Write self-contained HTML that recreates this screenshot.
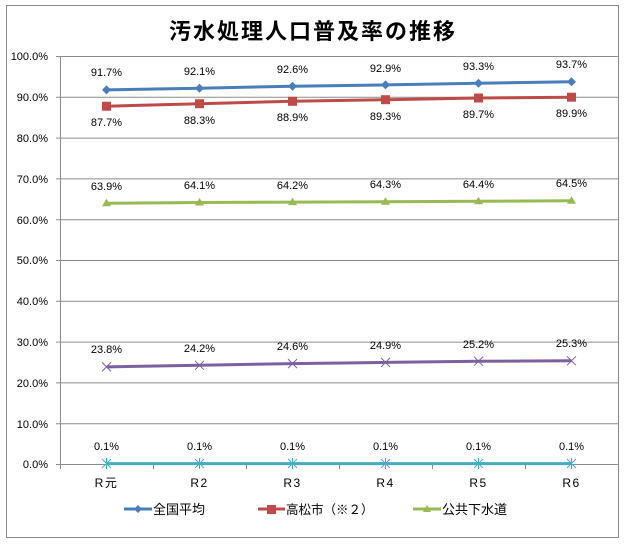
<!DOCTYPE html>
<html><head><meta charset="utf-8"><style>
body{margin:0;background:#fff;}
svg text{font-family:"Liberation Sans","Noto Sans CJK JP",sans-serif;}
</style></head><body>
<svg width="627" height="548" viewBox="0 0 627 548" xmlns="http://www.w3.org/2000/svg">
<rect x="0" y="0" width="627" height="548" fill="#fff"/>
<rect x="6.5" y="5.5" width="612" height="532" fill="#fff" stroke="#888" stroke-width="1"/>
<text x="313" y="39" text-anchor="middle" font-size="22" font-weight="bold" letter-spacing="2" style='font-family:"Noto Sans CJK JP",sans-serif'>汚水処理人口普及率の推移</text>
<g stroke="#8c8c8c" stroke-width="1">
<line x1="56" y1="56.5" x2="618" y2="56.5"/><line x1="56" y1="97.3" x2="618" y2="97.3"/>
<line x1="56" y1="138.1" x2="618" y2="138.1"/><line x1="56" y1="178.9" x2="618" y2="178.9"/>
<line x1="56" y1="219.7" x2="618" y2="219.7"/><line x1="56" y1="260.5" x2="618" y2="260.5"/>
<line x1="56" y1="301.3" x2="618" y2="301.3"/><line x1="56" y1="342.1" x2="618" y2="342.1"/>
<line x1="56" y1="382.9" x2="618" y2="382.9"/><line x1="56" y1="423.7" x2="618" y2="423.7"/>
<line x1="56" y1="464.5" x2="618" y2="464.5"/>
<line x1="60.5" y1="56" x2="60.5" y2="469"/>
<line x1="153.5" y1="464" x2="153.5" y2="469"/><line x1="246.5" y1="464" x2="246.5" y2="469"/>
<line x1="339.5" y1="464" x2="339.5" y2="469"/><line x1="432.5" y1="464" x2="432.5" y2="469"/>
<line x1="525.5" y1="464" x2="525.5" y2="469"/>
</g>
<g font-size="11" text-anchor="end" fill="#000">
<text x="48" y="60">100.0%</text><text x="48" y="101">90.0%</text><text x="48" y="142">80.0%</text>
<text x="48" y="183">70.0%</text><text x="48" y="224">60.0%</text><text x="48" y="264">50.0%</text>
<text x="48" y="305">40.0%</text><text x="48" y="346">30.0%</text><text x="48" y="387">20.0%</text>
<text x="48" y="428">10.0%</text><text x="48" y="468">0.0%</text>
</g>
<g font-size="12" text-anchor="middle" letter-spacing="1.5">
<text x="106.5" y="487">R元</text><text x="199.5" y="487">R2</text><text x="292.5" y="487">R3</text>
<text x="385.5" y="487">R4</text><text x="478.5" y="487">R5</text><text x="571.5" y="487">R6</text>
</g>
<polyline fill="none" stroke="#4a7ebb" stroke-width="3" points="106.5,89.9 199.5,88.2 292.5,86.2 385.5,84.9 478.5,83.3 571.5,81.7"/>
<g fill="#4a7ebb">
<polygon points="106.5,85.4 111,89.9 106.5,94.4 102,89.9"/><polygon points="199.5,83.7 204,88.2 199.5,92.7 195,88.2"/>
<polygon points="292.5,81.7 297,86.2 292.5,90.7 288,86.2"/><polygon points="385.5,80.4 390,84.9 385.5,89.4 381,84.9"/>
<polygon points="478.5,78.8 483,83.3 478.5,87.8 474,83.3"/><polygon points="571.5,77.2 576,81.7 571.5,86.2 567,81.7"/>
</g>
<polyline fill="none" stroke="#be4b48" stroke-width="3" points="106.5,106.2 199.5,103.7 292.5,101.3 385.5,99.7 478.5,98.0 571.5,97.2"/>
<g fill="#be4b48">
<rect x="102" y="101.7" width="9" height="9"/><rect x="195" y="99.2" width="9" height="9"/>
<rect x="288" y="96.8" width="9" height="9"/><rect x="381" y="95.2" width="9" height="9"/>
<rect x="474" y="93.5" width="9" height="9"/><rect x="567" y="92.7" width="9" height="9"/>
</g>
<polyline fill="none" stroke="#98b954" stroke-width="3" points="106.5,203.3 199.5,202.5 292.5,202.1 385.5,201.7 478.5,201.2 571.5,200.8"/>
<g fill="#98b954">
<polygon points="106.5,198.8 111,206.3 102,206.3"/><polygon points="199.5,198 204,205.5 195,205.5"/>
<polygon points="292.5,197.6 297,205.1 288,205.1"/><polygon points="385.5,197.2 390,204.7 381,204.7"/>
<polygon points="478.5,196.7 483,204.2 474,204.2"/><polygon points="571.5,196.3 576,203.8 567,203.8"/>
</g>
<polyline fill="none" stroke="#7d60a0" stroke-width="3" points="106.5,366.9 199.5,365.3 292.5,363.6 385.5,362.4 478.5,361.2 571.5,360.8"/>
<g stroke="#7d60a0" stroke-width="1">
<path d="M102,362.4l9,9M111,362.4l-9,9M195,360.8l9,9M204,360.8l-9,9M288,359.1l9,9M297,359.1l-9,9M381,357.9l9,9M390,357.9l-9,9M474,356.7l9,9M483,356.7l-9,9M567,356.3l9,9M576,356.3l-9,9"/>
</g>
<polyline fill="none" stroke="#46aac5" stroke-width="3" points="106.5,463.6 571.5,463.6"/>
<g stroke="#46aac5" stroke-width="1">
<path d="M102,459l9,9M111,459l-9,9M106.5,458v11M195,459l9,9M204,459l-9,9M199.5,458v11M288,459l9,9M297,459l-9,9M292.5,458v11M381,459l9,9M390,459l-9,9M385.5,458v11M474,459l9,9M483,459l-9,9M478.5,458v11M567,459l9,9M576,459l-9,9M571.5,458v11"/>
</g>
<g font-size="11" text-anchor="middle">
<text x="106.5" y="76">91.7%</text><text x="199.5" y="75">92.1%</text><text x="292.5" y="73">92.6%</text>
<text x="385.5" y="72">92.9%</text><text x="478.5" y="70">93.3%</text><text x="571.5" y="68">93.7%</text>
<text x="106.5" y="126">87.7%</text><text x="199.5" y="124">88.3%</text><text x="292.5" y="121">88.9%</text>
<text x="385.5" y="120">89.3%</text><text x="478.5" y="118">89.7%</text><text x="571.5" y="117">89.9%</text>
<text x="106.5" y="190">63.9%</text><text x="199.5" y="189">64.1%</text><text x="292.5" y="189">64.2%</text>
<text x="385.5" y="188">64.3%</text><text x="478.5" y="188">64.4%</text><text x="571.5" y="187">64.5%</text>
<text x="106.5" y="353">23.8%</text><text x="199.5" y="352">24.2%</text><text x="292.5" y="350">24.6%</text>
<text x="385.5" y="349">24.9%</text><text x="478.5" y="348">25.2%</text><text x="571.5" y="347">25.3%</text>
<text x="106.5" y="450">0.1%</text><text x="199.5" y="450">0.1%</text><text x="292.5" y="450">0.1%</text>
<text x="385.5" y="450">0.1%</text><text x="478.5" y="450">0.1%</text><text x="571.5" y="450">0.1%</text>
</g>
<line x1="124" y1="509" x2="152" y2="509" stroke="#4a7ebb" stroke-width="3"/>
<polygon points="138,505 142,509 138,513 134,509" fill="#4a7ebb"/>
<text x="153" y="514" font-size="13" style='font-family:"Noto Sans CJK JP",sans-serif'>全国平均</text>
<line x1="258" y1="509" x2="285" y2="509" stroke="#be4b48" stroke-width="3"/>
<rect x="267" y="505" width="9" height="9" fill="#be4b48"/>
<text x="286" y="514" font-size="12.5" style='font-family:"Noto Sans CJK JP",sans-serif'>高松市（※２）</text>
<line x1="413" y1="509" x2="441" y2="509" stroke="#98b954" stroke-width="3"/>
<polygon points="427,505 431,512 423,512" fill="#98b954"/>
<text x="442" y="514" font-size="13" style='font-family:"Noto Sans CJK JP",sans-serif'>公共下水道</text>
</svg>
</body></html>
